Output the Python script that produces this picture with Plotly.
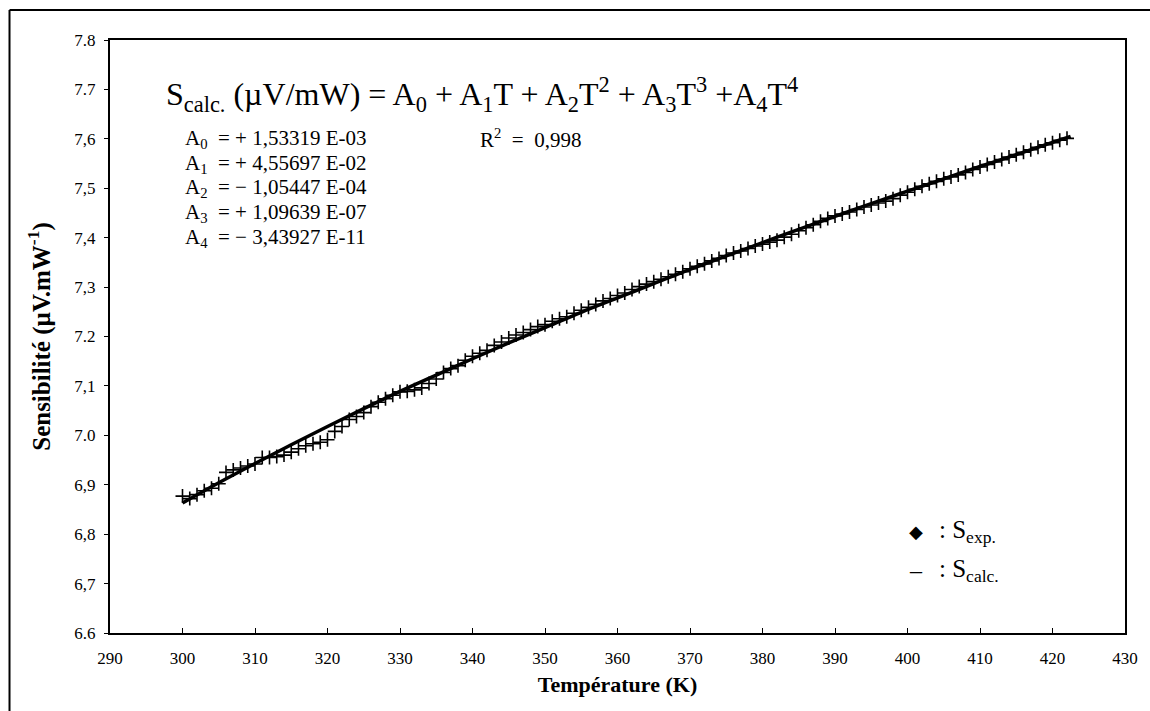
import plotly.graph_objects as go

# ---- data ----
T_exp = list(range(300, 423))
S_exp = [
    6.877, 6.872, 6.880, 6.888, 6.893, 6.902, 6.925, 6.930, 6.934, 6.938,
    6.942, 6.955, 6.955, 6.957, 6.960, 6.966, 6.973, 6.979, 6.983, 6.986,
    6.991, 7.008, 7.018, 7.032, 7.038, 7.046, 7.058, 7.067, 7.074, 7.081,
    7.088, 7.089, 7.092, 7.096, 7.105, 7.114, 7.127, 7.135, 7.141, 7.152,
    7.160, 7.166, 7.172, 7.182, 7.189, 7.197, 7.203, 7.208, 7.214, 7.220,
    7.224, 7.231, 7.236, 7.240, 7.247, 7.253, 7.259, 7.265, 7.272, 7.277,
    7.283, 7.288, 7.295, 7.301, 7.306, 7.311, 7.316, 7.321, 7.326, 7.331,
    7.337, 7.342, 7.347, 7.353, 7.358, 7.364, 7.369, 7.373, 7.378, 7.383,
    7.387, 7.391, 7.395, 7.401, 7.407, 7.414, 7.420, 7.426, 7.433, 7.439,
    7.444, 7.448, 7.452, 7.457, 7.462, 7.466, 7.470, 7.474, 7.479, 7.486,
    7.492, 7.498, 7.504, 7.509, 7.514, 7.519, 7.523, 7.527, 7.532, 7.538,
    7.543, 7.548, 7.553, 7.558, 7.563, 7.568, 7.573, 7.578, 7.583, 7.588,
    7.592, 7.597, 7.601,
]

T_calc = [300, 305, 310, 315, 320, 325, 330, 335, 340, 345, 350, 355, 360,
          365, 370, 375, 380, 385, 390, 395, 400, 405, 410, 415, 420, 422.5]
S_calc = [6.863, 6.904, 6.943, 6.981, 7.018, 7.054, 7.089, 7.122, 7.155,
          7.187, 7.218, 7.249, 7.278, 7.307, 7.336, 7.363, 7.390, 7.417,
          7.443, 7.469, 7.494, 7.519, 7.544, 7.568, 7.593, 7.605]

x_ticks = [290, 300, 310, 320, 330, 340, 350, 360, 370, 380, 390, 400, 410, 420, 430]
y_ticks = [6.6, 6.7, 6.8, 6.9, 7.0, 7.1, 7.2, 7.3, 7.4, 7.5, 7.6, 7.7, 7.8]
y_ticktext = ["6.6", "6,7", "6,8", "6,9", "7.0", "7,1", "7.2", "7,3", "7,4",
              "7,5", "7,6", "7.7", "7.8"]

coef_labels = [
    "A<sub>0</sub>&nbsp; = + 1,53319 E-03",
    "A<sub>1</sub>&nbsp; = + 4,55697 E-02",
    "A<sub>2</sub>&nbsp; = − 1,05447 E-04",
    "A<sub>3</sub>&nbsp; = + 1,09639 E-07",
    "A<sub>4</sub>&nbsp; = − 3,43927 E-11",
]
coef_y = [7.6, 7.55, 7.5, 7.45, 7.4]

SERIF = "Liberation Serif, Times New Roman, serif"

fig = go.Figure()
fig.add_trace(go.Scatter(
    x=T_calc, y=S_calc, mode="lines", line=dict(color="black", width=3.5, shape="spline"),
    showlegend=False, hoverinfo="skip"))
fig.add_trace(go.Scatter(
    x=T_exp, y=S_exp, mode="markers",
    marker=dict(symbol="cross-thin", size=10, line=dict(color="black", width=1.6)),
    showlegend=False))

annotations = []
annotations.append(dict(
    x=297.5, y=7.69, xref="x", yref="y", xanchor="left", yanchor="middle", showarrow=False,
    text="S<sub>calc.</sub> (µV/mW) = A<sub>0</sub> + A<sub>1</sub>T + A<sub>2</sub>T<sup>2</sup>"
         " + A<sub>3</sub>T<sup>3</sup> +A<sub>4</sub>T<sup>4</sup>",
    font=dict(family=SERIF, size=32, color="black")))
for lab, yy in zip(coef_labels, coef_y):
    annotations.append(dict(
        x=300.0, y=yy, xref="x", yref="y", xanchor="left", yanchor="middle", showarrow=False,
        text=lab, font=dict(family=SERIF, size=21, color="black")))
annotations.append(dict(
    x=340.8, y=7.6, xref="x", yref="y", xanchor="left", yanchor="middle", showarrow=False,
    text="R<sup>2</sup>&nbsp; = &nbsp;0,998", font=dict(family=SERIF, size=21, color="black")))
# legend-like text
annotations.append(dict(
    x=401.2, y=6.805, xref="x", yref="y", xanchor="center", yanchor="middle", showarrow=False,
    text="◆", font=dict(family="DejaVu Sans", size=18, color="black")))
annotations.append(dict(
    x=401.2, y=6.728, xref="x", yref="y", xanchor="center", yanchor="middle", showarrow=False,
    text="–", font=dict(family=SERIF, size=24, color="black")))
annotations.append(dict(
    x=404.0, y=6.805, xref="x", yref="y", xanchor="left", yanchor="middle", showarrow=False,
    text=": S<sub>exp.</sub>", font=dict(family=SERIF, size=25, color="black")))
annotations.append(dict(
    x=404.0, y=6.726, xref="x", yref="y", xanchor="left", yanchor="middle", showarrow=False,
    text=": S<sub>calc.</sub>", font=dict(family=SERIF, size=25, color="black")))

fig.update_layout(
    width=1150, height=711,
    margin=dict(l=110, r=20, t=40, b=78),
    paper_bgcolor="white", plot_bgcolor="white",
    font=dict(family=SERIF, color="black"),
    annotations=annotations,
    shapes=[
        dict(type="line", xref="paper", yref="paper", x0=-0.099, x1=1.03, y0=1.0506, y1=1.0506,
             line=dict(color="black", width=2)),
        dict(type="line", xref="paper", yref="paper", x0=-0.099, x1=-0.099, y0=1.0506, y1=-0.14,
             line=dict(color="black", width=2)),
    ],
)
fig.update_xaxes(
    range=[290, 430], tickvals=x_ticks, ticktext=[str(v) for v in x_ticks],
    ticks="inside", ticklen=5, tickwidth=1, tickcolor="black",
    showline=True, linecolor="black", linewidth=2, mirror=True,
    showgrid=False, zeroline=False,
    tickfont=dict(family=SERIF, size=17, color="black"),
    ticklabelstandoff=9,
    title=dict(text="<b>Température (K)</b>", font=dict(family=SERIF, size=22, color="black"),
               standoff=9),
)
fig.update_yaxes(
    range=[6.6, 7.8], tickvals=y_ticks, ticktext=y_ticktext,
    ticks="outside", ticklen=4, tickwidth=1, tickcolor="black",
    showline=True, linecolor="black", linewidth=2, mirror=True,
    showgrid=False, zeroline=False,
    tickfont=dict(family=SERIF, size=17, color="black"),
    ticklabelstandoff=5,
    title=dict(text="<b>Sensibilité (µV.mW<sup>-1</sup>)</b>",
               font=dict(family=SERIF, size=25, color="black"), standoff=17),
)

fig.write_html(
    "out.html",
    config={"displayModeBar": False},
    post_script="document.body.style.margin='0';document.body.style.overflow='hidden';",
)
